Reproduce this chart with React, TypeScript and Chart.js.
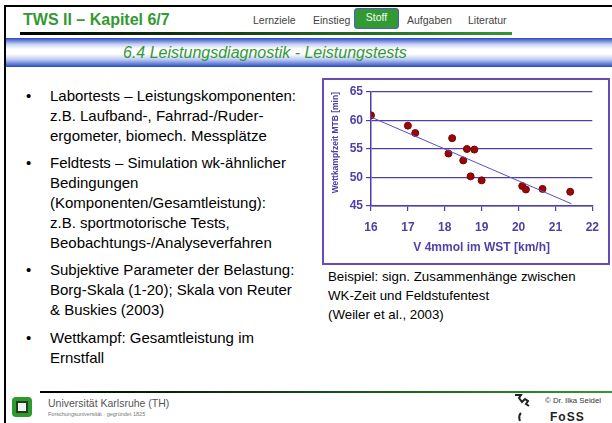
import React, { useEffect, useRef } from "react";
import { Chart, registerables } from "chart.js";
Chart.register(...registerables);

// Data
const speedKmh = [16.0, 17.0, 17.2, 18.1, 18.2, 18.5, 18.6, 18.8, 18.7, 19.0, 20.1, 20.2, 20.65, 21.4];
const raceTimeMin = [60.9, 59.1, 57.8, 54.2, 56.9, 53.0, 55.0, 54.9, 50.2, 49.5, 48.5, 47.9, 48.0, 47.5];
const trendSpeed = [16.0, 21.43];
const trendTime = [60.6, 45.4];
const xTickValues = [16, 17, 18, 19, 20, 21, 22];
const yTickValues = [45, 50, 55, 60, 65];

const xTitle = "V 4mmol im WST [km/h]";
const yTitle = "Wettkampfzeit MTB [min]";

const bullets = [
  ["Labortests – Leistungskomponenten:", "z.B. Laufband-, Fahrrad-/Ruder-", "ergometer, biomech. Messplätze"],
  ["Feldtests – Simulation wk-ähnlicher", "Bedingungen", "(Komponenten/Gesamtleistung):", "z.B. sportmotorische Tests,", "Beobachtungs-/Analyseverfahren"],
  ["Subjektive Parameter der Belastung:", "Borg-Skala (1-20); Skala von Reuter", "& Buskies (2003)"],
  ["Wettkampf: Gesamtleistung im", "Ernstfall"],
];
const bulletTops = [86, 153, 260, 328];
const captionLines = ["Beispiel: sign. Zusammenhänge zwischen", "WK-Zeit und Feldstufentest", "(Weiler et al., 2003)"];
const navItems = [
  { label: "Lernziele", x: 253 },
  { label: "Einstieg", x: 313 },
  { label: "Aufgaben", x: 407 },
  { label: "Literatur", x: 468 },
];

const FONT = "'Liberation Sans', Arial, sans-serif";
const AXIS = "#4f3fa6";
const GREEN = "#339933";

function ScatterChart() {
  const ref = useRef<HTMLCanvasElement | null>(null);
  useEffect(() => {
    if (!ref.current) return;
    const points = speedKmh.map((x, i) => ({ x, y: raceTimeMin[i] }));
    const trend = trendSpeed.map((x, i) => ({ x, y: trendTime[i] }));
    const chart = new Chart(ref.current, {
      type: "scatter",
      data: {
        datasets: [
          {
            type: "line",
            data: trend,
            borderColor: "#5a4fc0",
            borderWidth: 1,
            pointRadius: 0,
            showLine: true,
            fill: false,
          } as any,
          {
            data: points,
            backgroundColor: "#990808",
            borderColor: "#7a0000",
            borderWidth: 1,
            pointRadius: 3.5,
          },
        ],
      },
      options: {
        animation: false,
        responsive: false,
        devicePixelRatio: 1,
        layout: { padding: { top: 12, right: 7, left: 0, bottom: 0 } },
        plugins: { legend: { display: false }, tooltip: { enabled: false } },
        scales: {
          x: {
            type: "linear",
            min: xTickValues[0],
            max: xTickValues[xTickValues.length - 1],
            afterBuildTicks: (s: any) => {
              s.ticks = xTickValues.map((v) => ({ value: v }));
            },
            afterFit: (s: any) => {
              s.height = 57;
            },
            ticks: { color: AXIS, font: { family: FONT, size: 12, weight: "bold" }, padding: 9 },
            grid: { drawOnChartArea: false, drawTicks: true, tickLength: 5, color: AXIS, lineWidth: 1.2 },
            border: { display: true, color: AXIS, width: 1.5 },
            title: {
              display: true,
              text: xTitle,
              color: AXIS,
              font: { family: FONT, size: 12, weight: "bold" },
              padding: { top: 0, bottom: 8 },
            },
          },
          y: {
            type: "linear",
            min: yTickValues[0],
            max: yTickValues[yTickValues.length - 1],
            afterBuildTicks: (s: any) => {
              s.ticks = yTickValues.map((v) => ({ value: v }));
            },
            afterFit: (s: any) => {
              s.width = 47;
            },
            ticks: { color: AXIS, font: { family: FONT, size: 12, weight: "bold" }, padding: 3 },
            grid: { drawTicks: true, tickLength: 5, color: AXIS, lineWidth: 1.2 },
            border: { display: true, color: AXIS, width: 1.5 },
            title: {
              display: true,
              text: yTitle,
              align: "end",
              color: AXIS,
              font: { family: FONT, size: 8.5, weight: "bold" },
              padding: { top: 7, bottom: 0 },
            },
          },
        },
      },
    });
    return () => chart.destroy();
  }, []);
  return <canvas ref={ref} width={284} height={183} style={{ display: "block", width: 284, height: 183 }} />;
}

export default function App() {
  const abs = (s: React.CSSProperties): React.CSSProperties => ({ position: "absolute", ...s });
  return (
    <div
      style={{
        position: "fixed",
        left: 0,
        top: 0,
        width: 612,
        height: 423,
        overflow: "hidden",
        background: "#fff",
        fontFamily: FONT,
        color: "#000",
      }}
    >
      {/* frame */}
      <div style={abs({ left: 5, top: 5, width: 607, height: 2, background: "#000" })} />
      <div style={abs({ left: 4, top: 5, width: 2, height: 418, background: "#000" })} />

      {/* header */}
      <div style={abs({ left: 23, top: 11, fontSize: 16, fontWeight: "bold", color: GREEN, lineHeight: "18px", whiteSpace: "nowrap" })}>
        TWS II – Kapitel 6/7
      </div>
      {navItems.map((n) => (
        <div key={n.label} style={abs({ left: n.x, top: 13, fontSize: 10.5, lineHeight: "14px", color: "#444", whiteSpace: "nowrap" })}>
          {n.label}
        </div>
      ))}
      <div
        style={abs({
          left: 354,
          top: 8,
          width: 45,
          height: 21,
          boxSizing: "border-box",
          background: GREEN,
          border: "1.5px solid #4a5ad8",
          borderRadius: 3,
          color: "#f4fff4",
          fontSize: 10.5,
          lineHeight: "17px",
          textAlign: "center",
        })}
      >
        Stoff
      </div>
      <div style={abs({ left: 20, top: 32, width: 492, height: 3, background: `linear-gradient(to right, #000, ${GREEN})` })} />
      <div
        style={abs({
          left: 6,
          top: 38,
          width: 606,
          height: 29,
          background: "linear-gradient(to bottom, #2748c4 0%, #c8d3f3 22%, #ffffff 38%, #ffffff 55%, #b9c8f0 75%, #2748c4 100%)",
        })}
      />
      <div style={abs({ left: 123, top: 43, fontSize: 16, fontStyle: "italic", color: GREEN, lineHeight: "20px", whiteSpace: "nowrap" })}>
        6.4 Leistungsdiagnostik - Leistungstests
      </div>

      {/* bullets */}
      {bullets.map((lines, i) => (
        <React.Fragment key={i}>
          <div style={abs({ left: 26, top: bulletTops[i], fontSize: 15, lineHeight: "20px" })}>•</div>
          <div style={abs({ left: 50, top: bulletTops[i], fontSize: 15, lineHeight: "20px", whiteSpace: "nowrap" })}>
            {lines.map((l, j) => (
              <div key={j}>{l}</div>
            ))}
          </div>
        </React.Fragment>
      ))}

      {/* chart */}
      <div
        style={abs({
          left: 322,
          top: 78,
          width: 288,
          height: 187,
          boxSizing: "border-box",
          border: "2px solid #6a4ab8",
        })}
      >
        <ScatterChart />
      </div>
      <div style={abs({ left: 328, top: 267, fontSize: 13.3, lineHeight: "19px", whiteSpace: "nowrap" })}>
        {captionLines.map((l, j) => (
          <div key={j}>{l}</div>
        ))}
      </div>

      {/* footer */}
      <div style={abs({ left: 40, top: 391, width: 572, height: 2, background: `linear-gradient(to right, #000, ${GREEN})` })} />
      <div style={abs({ left: 12, top: 397, width: 20, height: 20, background: "#2e9a2e", borderRadius: 4 })}>
        <div style={abs({ left: 4, top: 4, width: 12, height: 12, boxSizing: "border-box", background: "#f2f2f2", border: "2px solid #1c3f1c" })} />
      </div>
      <div style={abs({ left: 48, top: 397, fontSize: 10.5, lineHeight: "13px", color: "#555", whiteSpace: "nowrap" })}>
        Universität Karlsruhe (TH)
      </div>
      <div style={abs({ left: 48, top: 411, fontSize: 5.5, lineHeight: "7px", color: "#777", whiteSpace: "nowrap" })}>
        Forschungsuniversität · gegründet 1825
      </div>
      <svg style={abs({ left: 512, top: 393, width: 40, height: 30 })} viewBox="0 0 40 30">
        <path d="M3 2 L9 2 L7 5 L10 9 L13 6 L16 8 L14 11 L17 13" stroke="#222" strokeWidth="2" fill="none" />
        <path d="M9 20 Q6 23 8 28" stroke="#222" strokeWidth="2" fill="none" />
      </svg>
      <div style={abs({ left: 545, top: 396, fontSize: 7.8, lineHeight: "9px", color: "#333", whiteSpace: "nowrap" })}>
        © Dr. Ilka Seidel
      </div>
      <div style={abs({ left: 550, top: 410, fontSize: 12, fontWeight: "bold", lineHeight: "14px", color: "#222", letterSpacing: 1 })}>
        FoSS
      </div>
    </div>
  );
}
